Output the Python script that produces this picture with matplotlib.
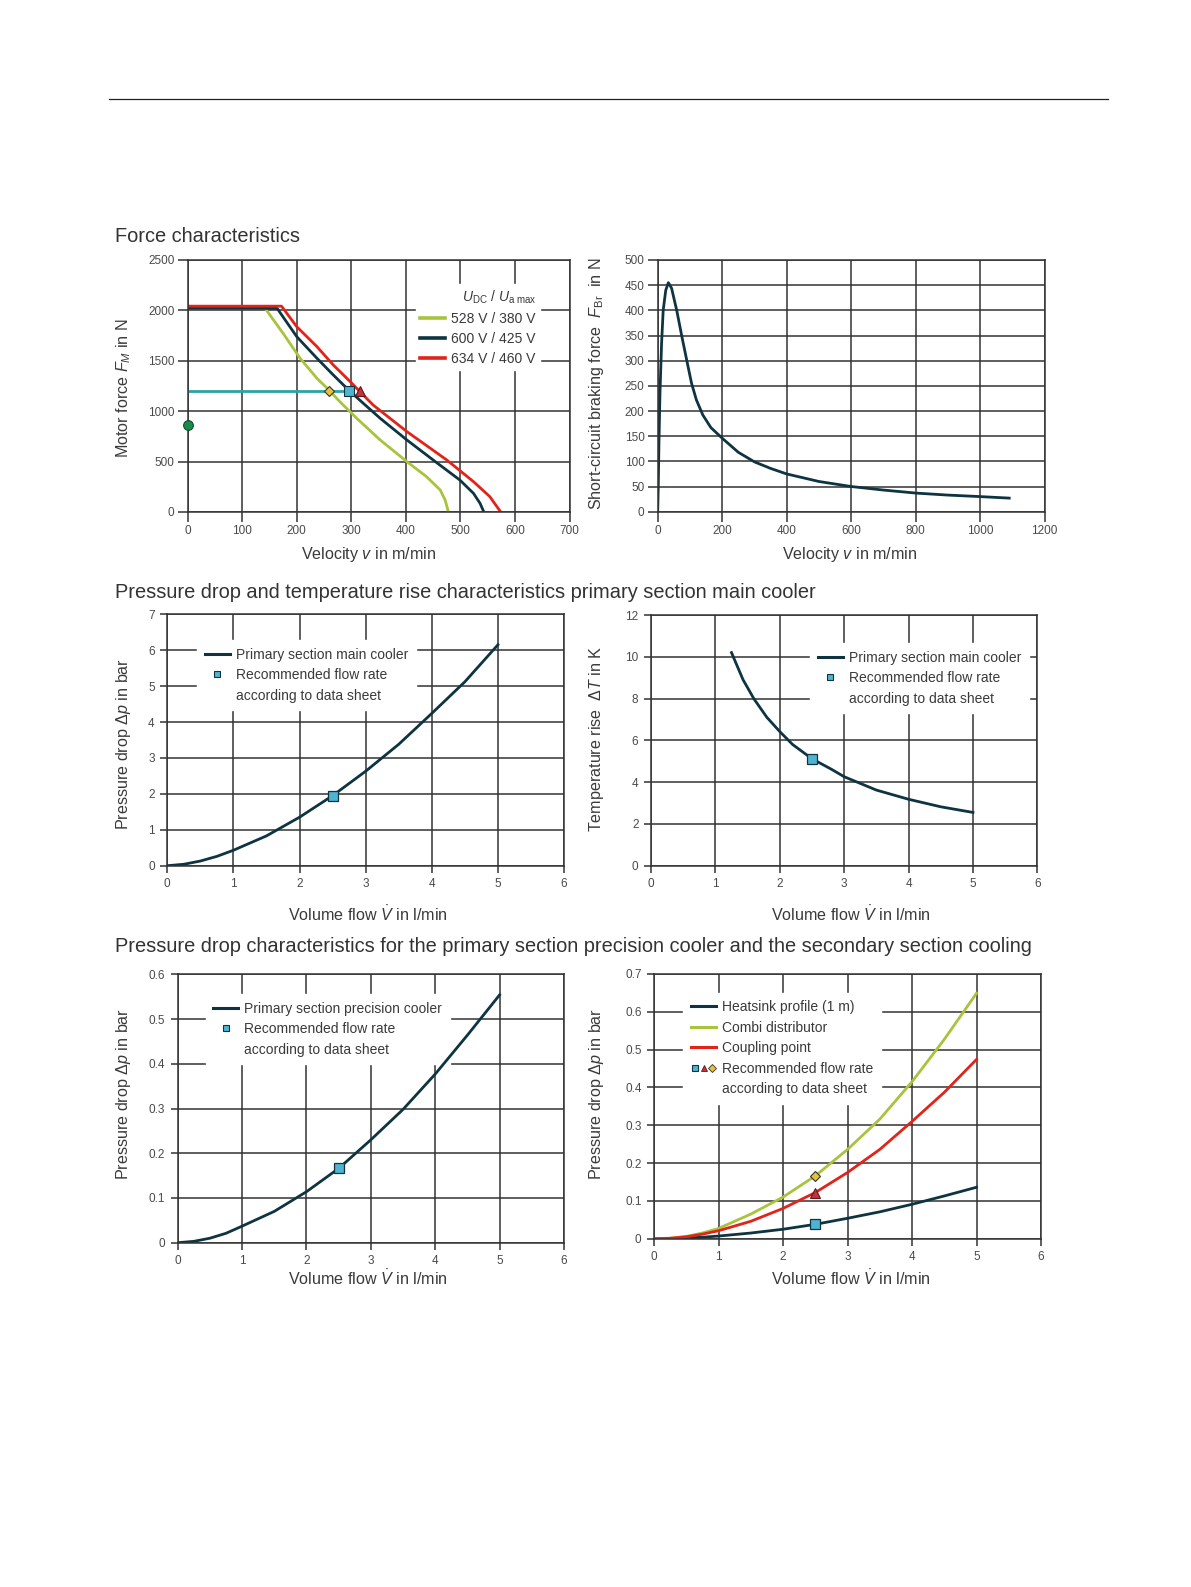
import matplotlib.pyplot as plt
from matplotlib.lines import Line2D
from matplotlib.legend_handler import HandlerTuple

plt.rcParams["font.family"] = ["Liberation Sans", "DejaVu Sans"]
plt.rcParams["mathtext.fontset"] = "custom"
plt.rcParams["mathtext.rm"] = "Liberation Sans"
plt.rcParams["mathtext.it"] = "Liberation Sans:italic"
plt.rcParams["mathtext.bf"] = "Liberation Sans:bold"

# --- force characteristics (v in m/min, F in N)
v_528 = [0, 142, 175, 206, 237, 259, 279, 310, 353, 402, 438, 463, 472, 478]
f_528 = [2020, 2020, 1772, 1525, 1326, 1210, 1094, 929, 714, 499, 350, 218, 119, 0]
v_600 = [0, 164, 200, 237, 267, 296, 322, 353, 402, 450, 499, 524, 536, 543]
f_600 = [2020, 2020, 1739, 1525, 1359, 1205, 1078, 929, 714, 516, 317, 185, 86, 0]
v_634 = [0, 172, 200, 237, 267, 298, 316, 340, 371, 402, 475, 524, 554, 566, 574]
f_634 = [2042, 2042, 1838, 1640, 1458, 1293, 1193, 1061, 929, 797, 516, 301, 152, 60, 0]
op_force = 1200
op_v = [259, 296, 316]      # diamond, square, triangle
op_line_v = [0, 300]
standstill_f = 865

# --- short-circuit braking force
v_br = [0, 2, 4, 7, 12, 17, 25, 33, 43, 59, 74, 90, 105, 120, 140, 165, 200, 250, 300,
        350, 400, 500, 600, 700, 800, 900, 1000, 1090]
f_br = [0, 60, 140, 235, 334, 400, 440, 455, 444, 400, 351, 301, 255, 222, 192, 167, 146,
        118, 99, 86, 75, 60, 50, 43, 37, 33, 30, 27]

# --- main cooler
q = [0, 0.25, 0.5, 0.75, 1, 1.5, 2, 2.5, 3, 3.5, 4, 4.5, 5]
dp_main = [0, 0.04, 0.13, 0.26, 0.43, 0.83, 1.35, 1.95, 2.63, 3.38, 4.24, 5.12, 6.15]
q_dt = [1.25, 1.43, 1.6, 1.8, 2, 2.2, 2.5, 2.8, 3, 3.5, 4, 4.5, 5]
dt_main = [10.2, 8.9, 7.98, 7.1, 6.42, 5.8, 5.12, 4.62, 4.26, 3.62, 3.18, 2.82, 2.55]
q_rec = 2.5
dp_main_rec = 1.95
dt_main_rec = 5.12

# --- precision cooler / secondary section
dp_prec = [0, 0.003, 0.01, 0.021, 0.037, 0.07, 0.114, 0.166, 0.23, 0.298, 0.377, 0.464, 0.554]
dp_prec_rec = 0.166
dp_heatsink = [0, 0.0005, 0.002, 0.004, 0.007, 0.015, 0.025, 0.038, 0.054, 0.071, 0.091, 0.113, 0.136]
dp_combi = [0, 0.0015, 0.006, 0.015, 0.027, 0.065, 0.11, 0.166, 0.236, 0.316, 0.415, 0.527, 0.649]
dp_coupling = [0, 0.001, 0.005, 0.012, 0.021, 0.046, 0.08, 0.122, 0.175, 0.236, 0.31, 0.387, 0.474]
rec_heatsink, rec_coupling, rec_combi = 0.038, 0.122, 0.166

c_dark = "#0e3441"
c_green = "#a8c33c"
c_red = "#e2231a"
c_teal = "#2ba4a8"
c_sq = "#4fb4cf"
c_tri = "#c8303c"
c_dia = "#e6c23a"
grid_c = "#333333"
tick_c = "#4a4a4a"
lab_c = "#3a3a3a"

W, H = 1191, 1587
fig = plt.figure(figsize=(W / 100, H / 100), dpi=100)


def panel(l, t, r, b):
    return fig.add_axes([l / W, 1 - b / H, (r - l) / W, (b - t) / H])


def style(ax, xticks, yticks, ticklen=5, pad=4):
    ax.set_xticks(xticks)
    ax.set_yticks(yticks)
    ax.set_xlim(xticks[0], xticks[-1])
    ax.set_ylim(yticks[0], yticks[-1])
    ax.grid(True, color=grid_c, lw=1.1)
    ax.set_axisbelow(True)
    ax.tick_params(length=ticklen, width=1.1, color=grid_c, pad=pad,
                   labelsize=8.5, labelcolor=tick_c)
    for s in ax.spines.values():
        s.set_color(grid_c)
        s.set_linewidth(1.1)


def labels(ax, xlabel, ylabel, xpos, ypos):
    ax.set_xlabel(xlabel, fontsize=11.6, color=lab_c)
    ax.set_ylabel(ylabel, fontsize=11.6, color=lab_c)
    ax.xaxis.set_label_coords(xpos[0] / W, 1 - xpos[1] / H, transform=fig.transFigure)
    ax.yaxis.set_label_coords(ypos[0] / W, 1 - ypos[1] / H, transform=fig.transFigure)
    ax.xaxis.label.set_va("center")
    ax.yaxis.label.set_va("center")


def small_legend(ax, handles, texts, anchor, **kw):
    leg = ax.legend(handles, texts, loc="upper left", bbox_to_anchor=anchor,
                    borderaxespad=0, frameon=True, fancybox=False, framealpha=1,
                    edgecolor="white", facecolor="white", fontsize=10,
                    handlelength=1.8, handletextpad=0.45, borderpad=0.55,
                    labelspacing=0.47, **kw)
    leg.set_zorder(1.5)
    for t in leg.get_texts():
        t.set_color(lab_c)
    return leg


def sq(**kw):
    return Line2D([], [], ls="none", marker="s", mfc=c_sq, mec=c_dark, mew=0.8, **kw)


# top rule
fig.add_artist(Line2D([109 / W, 1108 / W], [1 - 99 / H, 1 - 99 / H], color="#222222", lw=0.9))

title_kw = dict(fontsize=14.4, color="#333333", va="center")
fig.text(115 / W, 1 - 236 / H, "Force characteristics", **title_kw)
fig.text(115 / W, 1 - 592 / H,
         "Pressure drop and temperature rise characteristics primary section main cooler",
         **title_kw)
fig.text(115 / W, 1 - 947 / H,
         "Pressure drop characteristics for the primary section precision cooler and the secondary section cooling",
         **title_kw)

# ---------- motor force
ax1 = panel(187.7, 260, 569.5, 512)
style(ax1, list(range(0, 701, 100)), list(range(0, 2501, 500)), ticklen=7, pad=2.5)
ax1.plot(v_528, f_528, color=c_green, lw=2)
ax1.plot(v_600, f_600, color=c_dark, lw=2)
ax1.plot(v_634, f_634, color=c_red, lw=2)
ax1.plot(op_line_v, [op_force, op_force], color=c_teal, lw=2)
ax1.plot(op_v[0], op_force, ls="none", marker="D", ms=5.5, mfc=c_dia, mec="#333333", mew=0.8)
ax1.plot(op_v[1], op_force, ls="none", marker="s", ms=7, mfc=c_sq, mec=c_dark, mew=0.8)
ax1.plot(op_v[2], op_force, ls="none", marker="^", ms=7.5, mfc=c_tri, mec="#5a1a1a", mew=0.8)
ax1.plot(0, standstill_f, ls="none", marker="o", ms=7, mfc="#1d8a4c", mec="#0c4d2a",
         mew=0.8, clip_on=False, zorder=5)
labels(ax1, r"Velocity $v$ in m/min", r"Motor force $F_M$ in N", (369, 555), (124, 388))
leg1 = ax1.legend([Line2D([], [], color=c, lw=2.6) for c in (c_green, c_dark, c_red)],
                  ["528 V / 380 V", "600 V / 425 V", "634 V / 460 V"],
                  title=r"$U_{\mathrm{DC}}$ / $U_{\mathrm{a\ max}}$",
                  loc="upper left", bbox_to_anchor=(0.598, 0.905), borderaxespad=0,
                  frameon=True, fancybox=False, framealpha=1, edgecolor="white",
                  facecolor="white", fontsize=10, title_fontsize=10, handlelength=1.8,
                  handletextpad=0.45, borderpad=0.3, labelspacing=0.45, alignment="right")
for t in leg1.get_texts():
    t.set_color(lab_c)
leg1.get_title().set_color(lab_c)

# ---------- braking force
ax2 = panel(657.7, 260, 1044.7, 511.7)
style(ax2, list(range(0, 1201, 200)), list(range(0, 501, 50)), ticklen=7, pad=2.5)
ax2.plot(v_br, f_br, color=c_dark, lw=2)
labels(ax2, r"Velocity $v$ in m/min", r"Short-circuit braking force  $F_{\mathrm{Br}}$  in N",
       (850, 555), (597, 384))

# ---------- main cooler pressure drop
ax3 = panel(167.3, 614.3, 564, 865.7)
style(ax3, list(range(0, 7)), list(range(0, 8)))
ax3.plot(q, dp_main, color=c_dark, lw=2)
ax3.plot(q_rec, dp_main_rec, marker="s", ms=7, mfc=c_sq, mec=c_dark, mew=0.9, ls="none")
labels(ax3, r"Volume flow $\dot{V}$ in l/min", r"Pressure drop $\Delta p$ in bar",
       (368, 914), (124, 744))
small_legend(ax3, [Line2D([], [], color=c_dark, lw=2.2), sq(ms=4.5), Line2D([], [], color="none")],
             ["Primary section main cooler", "Recommended flow rate", "according to data sheet"],
             (0.075, 0.898))

# ---------- main cooler temperature rise
ax4 = panel(651, 615, 1037.3, 865.7)
style(ax4, list(range(0, 7)), list(range(0, 13, 2)))
ax4.plot(q_dt, dt_main, color=c_dark, lw=2)
ax4.plot(q_rec, dt_main_rec, marker="s", ms=7, mfc=c_sq, mec=c_dark, mew=0.9, ls="none")
labels(ax4, r"Volume flow $\dot{V}$ in l/min", r"Temperature rise  $\Delta T$ in K",
       (851, 914), (597, 739))
small_legend(ax4, [Line2D([], [], color=c_dark, lw=2.2), sq(ms=4.5), Line2D([], [], color="none")],
             ["Primary section main cooler", "Recommended flow rate", "according to data sheet"],
             (0.412, 0.888))

# ---------- precision cooler
ax5 = panel(177.7, 974.3, 564, 1242.7)
style(ax5, list(range(0, 7)), [0, 0.1, 0.2, 0.3, 0.4, 0.5, 0.6])
ax5.yaxis.set_major_formatter(lambda v, pos: "0" if v == 0 else f"{v:.1f}")
ax5.plot(q, dp_prec, color=c_dark, lw=2)
ax5.plot(q_rec, dp_prec_rec, marker="s", ms=7, mfc=c_sq, mec=c_dark, mew=0.9, ls="none")
labels(ax5, r"Volume flow $\dot{V}$ in l/min", r"Pressure drop $\Delta p$ in bar",
       (368, 1278), (124, 1094))
small_legend(ax5, [Line2D([], [], color=c_dark, lw=2.2), sq(ms=4.5), Line2D([], [], color="none")],
             ["Primary section precision cooler", "Recommended flow rate", "according to data sheet"],
             (0.072, 0.927))

# ---------- secondary section
ax6 = panel(654, 974, 1041, 1238.7)
style(ax6, list(range(0, 7)), [0, 0.1, 0.2, 0.3, 0.4, 0.5, 0.6, 0.7])
ax6.yaxis.set_major_formatter(lambda v, pos: "0" if v == 0 else f"{v:.1f}")
ax6.plot(q, dp_heatsink, color=c_dark, lw=2)
ax6.plot(q, dp_combi, color=c_green, lw=2)
ax6.plot(q, dp_coupling, color=c_red, lw=2)
ax6.plot(q_rec, rec_heatsink, marker="s", ms=7, mfc=c_sq, mec=c_dark, mew=0.9, ls="none")
ax6.plot(q_rec, rec_coupling, marker="^", ms=7.5, mfc=c_tri, mec="#5a1a1a", mew=0.8, ls="none")
ax6.plot(q_rec, rec_combi, marker="D", ms=5.5, mfc=c_dia, mec="#333333", mew=0.8, ls="none")
labels(ax6, r"Volume flow $\dot{V}$ in l/min", r"Pressure drop $\Delta p$ in bar",
       (851, 1278), (597, 1094))
rec_handle = (sq(ms=4.5),
              Line2D([], [], ls="none", marker="^", ms=5, mfc=c_tri, mec="#5a1a1a", mew=0.6),
              Line2D([], [], ls="none", marker="D", ms=3.8, mfc=c_dia, mec="#333333", mew=0.6))
small_legend(ax6, [Line2D([], [], color=c_dark, lw=2.2), Line2D([], [], color=c_green, lw=2.2),
                   Line2D([], [], color=c_red, lw=2.2), rec_handle, Line2D([], [], color="none")],
             ["Heatsink profile (1 m)", "Combi distributor", "Coupling point",
              "Recommended flow rate", "according to data sheet"],
             (0.076, 0.93), handler_map={tuple: HandlerTuple(ndivide=None, pad=0.1)})

fig.savefig("out.png", dpi=100, facecolor="white")
